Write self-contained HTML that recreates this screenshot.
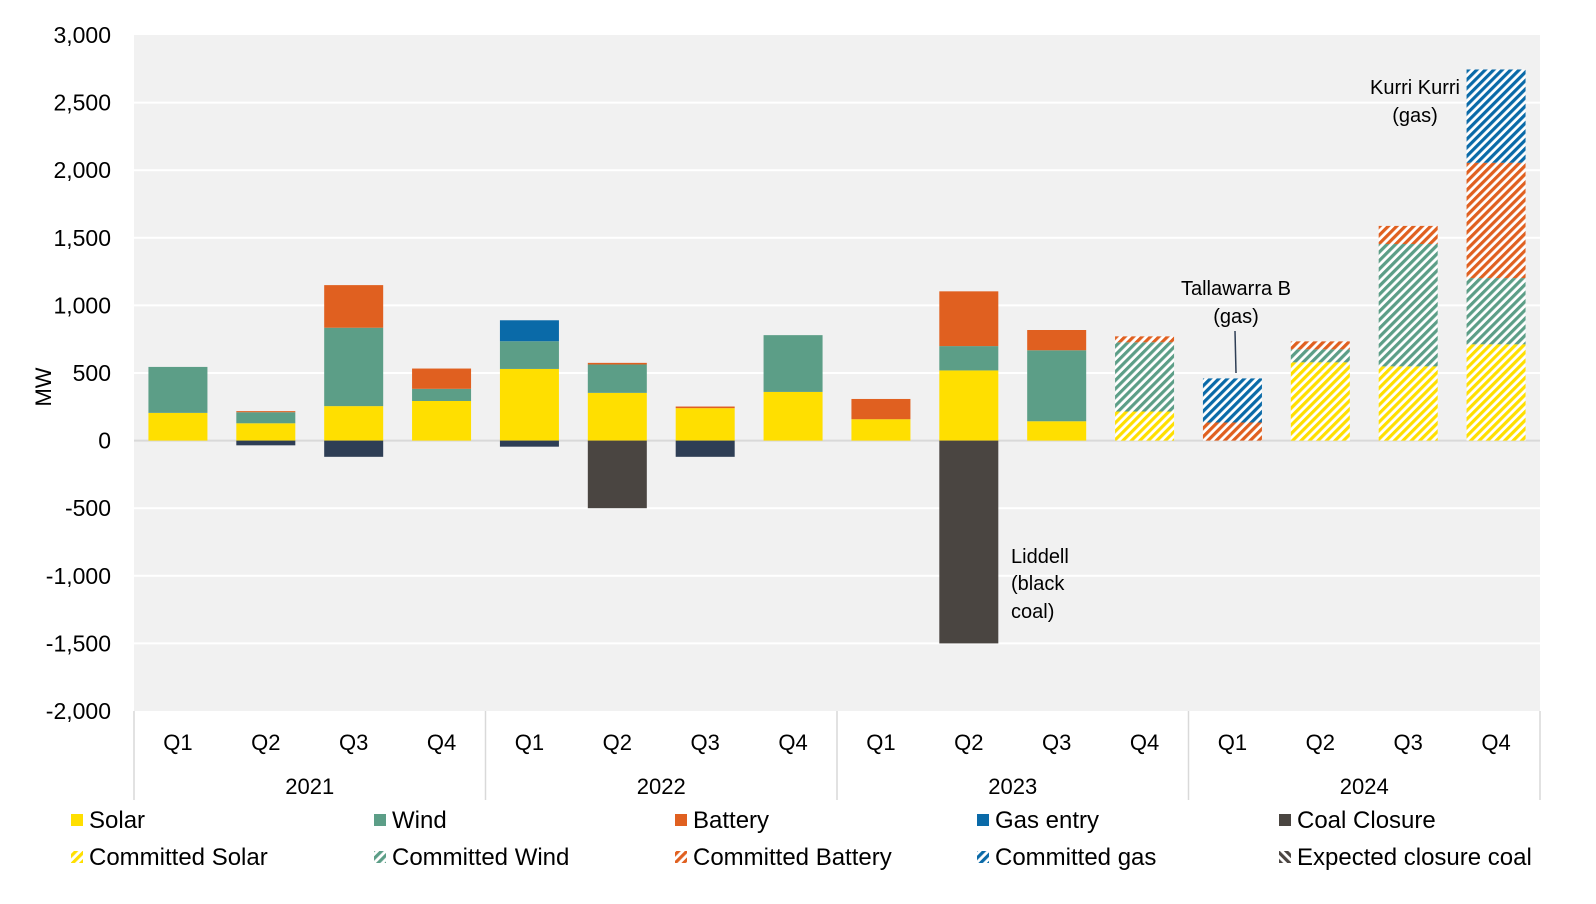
<!DOCTYPE html>
<html><head><meta charset="utf-8"><style>
body{margin:0;background:#fff;}
svg{display:block;font-family:"Liberation Sans",sans-serif;}
</style></head><body>
<svg id="chart" width="1596" height="904">
<defs>
<pattern id="p-solar" width="6" height="6" patternUnits="userSpaceOnUse" patternTransform="rotate(45)"><rect width="6" height="6" fill="#fff"/><rect width="3.2" height="6" fill="#ffdf00"/></pattern>
<pattern id="p-wind" width="6" height="6" patternUnits="userSpaceOnUse" patternTransform="rotate(45)"><rect width="6" height="6" fill="#fff"/><rect width="3.2" height="6" fill="#5c9e87"/></pattern>
<pattern id="p-battery" width="6" height="6" patternUnits="userSpaceOnUse" patternTransform="rotate(45)"><rect width="6" height="6" fill="#fff"/><rect width="3.2" height="6" fill="#e06020"/></pattern>
<pattern id="p-gas" width="6" height="6" patternUnits="userSpaceOnUse" patternTransform="rotate(45)"><rect width="6" height="6" fill="#fff"/><rect width="3.2" height="6" fill="#0a6aa8"/></pattern>
<pattern id="p-coal" width="6" height="6" patternUnits="userSpaceOnUse" patternTransform="rotate(-45)"><rect width="6" height="6" fill="#fff"/><rect width="3.2" height="6" fill="#4a4541"/></pattern>
</defs>
<rect x="134" y="35" width="1406" height="676" fill="#f1f1f1"/>
<g id="grid"></g><g id="bars"></g><g id="axes"></g><g id="legend"></g>
<text x="51" y="387" font-size="22" text-anchor="middle" transform="rotate(-90 51 387)">MW</text>
<g font-size="20" fill="#000">
<text x="1011" y="563">Liddell</text>
<text x="1011" y="590">(black</text>
<text x="1011" y="618">coal)</text>
<text x="1236" y="295" text-anchor="middle">Tallawarra B</text>
<text x="1236" y="323" text-anchor="middle">(gas)</text>
<line x1="1235" y1="331" x2="1236" y2="373" stroke="#2e3e55" stroke-width="1.5"/>
<text x="1415" y="94" text-anchor="middle">Kurri Kurri</text>
<text x="1415" y="122" text-anchor="middle">(gas)</text>
</g>
</svg>
<script>
const quarters=["Q1","Q2","Q3","Q4","Q1","Q2","Q3","Q4","Q1","Q2","Q3","Q4","Q1","Q2","Q3","Q4"];
const years=["2021","2022","2023","2024"];
const solar=[205,128,255,293,530,353,240,360,158,519,143,0,0,0,0,0];
const wind=[340,82,580,90,205,210,0,420,0,180,525,0,0,0,0,0];
const battery=[0,8,315,150,0,12,12,0,150,405,150,0,0,0,0,0];
const gasEntry=[0,0,0,0,155,0,0,0,0,0,0,0,0,0,0,0];
const otherClosure=[0,-35,-120,0,-45,0,-120,0,0,0,0,0,0,0,0,0];
const coalClosure=[0,0,0,0,0,-500,0,0,0,-1500,0,0,0,0,0,0];
const comSolar=[0,0,0,0,0,0,0,0,0,0,0,215,0,579,549,712];
const comWind=[0,0,0,0,0,0,0,0,0,0,0,512,0,96,905,490];
const comBattery=[0,0,0,0,0,0,0,0,0,0,0,44,134,59,134,853];
const comGas=[0,0,0,0,0,0,0,0,0,0,0,0,326,0,0,690];
const yTicks=[3000,2500,2000,1500,1000,500,0,-500,-1000,-1500,-2000];

const NS="http://www.w3.org/2000/svg";
const X0=134,X1=1540,Y0=35,Y1=711,VMAX=3000,VMIN=-2000;
const step=(X1-X0)/quarters.length,BW=59;
const y=v=>Y0+(VMAX-v)/(VMAX-VMIN)*(Y1-Y0);
const xc=i=>X0+step*(i+0.5);
function mk(tag,attrs,parent){const e=document.createElementNS(NS,tag);for(const k in attrs)e.setAttribute(k,attrs[k]);parent.appendChild(e);return e;}
const grid=document.getElementById('grid'),bars=document.getElementById('bars'),axes=document.getElementById('axes'),legend=document.getElementById('legend');
yTicks.forEach(t=>{
  if(t!==VMAX&&t!==VMIN){const l=mk('line',{x1:X0,x2:X1,y1:y(t),y2:y(t),stroke:t===0?'#d9d9d9':'#fff','stroke-width':2},grid);
  
  }
  const tx=mk('text',{x:111,y:y(t)+8,'font-size':23,'text-anchor':'end'},axes);tx.textContent=t.toLocaleString('en-US');
  
  
});
const pos=[[solar,'#ffdf00','solar'],[wind,'#5c9e87','wind'],[battery,'#e06020','battery'],[gasEntry,'#0a6aa8','gas-entry'],[comSolar,'url(#p-solar)','committed-solar'],[comWind,'url(#p-wind)','committed-wind'],[comBattery,'url(#p-battery)','committed-battery'],[comGas,'url(#p-gas)','committed-gas']];
const neg=[[otherClosure,'#2e3e55','other-closure'],[coalClosure,'#4a4541','coal-closure']];
quarters.forEach((q,i)=>{
  let acc=0;
  pos.forEach(([arr,fill,nm])=>{const v=arr[i];if(!v)return;
    const r=mk('rect',{x:xc(i)-BW/2,y:y(acc+v),width:BW,height:y(acc)-y(acc+v),fill:fill},bars);
    
    
    acc+=v;});
  let n=0;
  neg.forEach(([arr,fill,nm])=>{const v=arr[i];if(!v)return;
    const r=mk('rect',{x:xc(i)-BW/2,y:y(n),width:BW,height:y(n+v)-y(n),fill:fill},bars);
    
    
    n+=v;});
  const t=mk('text',{x:xc(i),y:750,'font-size':22,'text-anchor':'middle'},axes);t.textContent=q;
  
  
});
for(let k=0;k<=years.length;k++){const xx=X0+step*4*k;
  const l=mk('line',{x1:xx,x2:xx,y1:Y1,y2:800,stroke:'#d9d9d9','stroke-width':1.5},axes);
  
  }
years.forEach((yr,k)=>{const t=mk('text',{x:X0+step*(4*k+2),y:794,'font-size':22,'text-anchor':'middle'},axes);t.textContent=yr;
  
  });
const leg=[["Solar","#ffdf00"],["Wind","#5c9e87"],["Battery","#e06020"],["Gas entry","#0a6aa8"],["Coal Closure","#4a4541"],["Committed Solar","url(#p-solar)"],["Committed Wind","url(#p-wind)"],["Committed Battery","url(#p-battery)"],["Committed gas","url(#p-gas)"],["Expected closure coal","url(#p-coal)"]];
const lx=[71,374,675,977,1279];
leg.forEach(([lab,fill],j)=>{const cx=lx[j%5],cy=j<5?820:857;
  const g=mk('g',{},legend);
  
  
  mk('rect',{x:cx,y:cy-6,width:12,height:12,fill:fill},g);
  const t=mk('text',{x:cx+18,y:cy+8,'font-size':24},g);t.textContent=lab;});
</script>
</body></html>
